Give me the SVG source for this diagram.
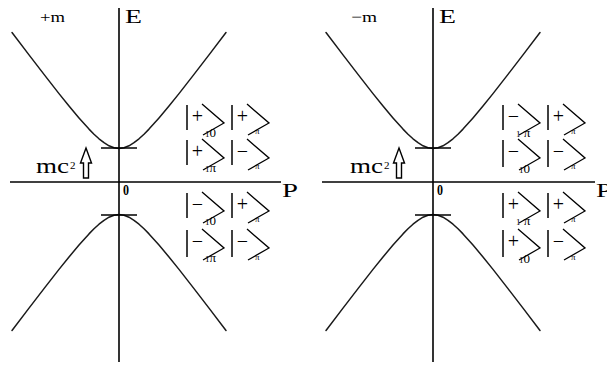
<svg xmlns="http://www.w3.org/2000/svg" width="607" height="366" viewBox="0 0 607 366">
<style>
.ax{stroke:#000;stroke-width:1.6;fill:none}
.cv{stroke:#1a1a1a;stroke-width:1.5;fill:none;stroke-linejoin:round;stroke-linecap:round}
.tk{stroke:#000;stroke-width:1.4}
.bar{stroke:#000;stroke-width:1.5}
.chev{stroke:#000;stroke-width:1.3;fill:none}
.t{font-family:"Liberation Serif","Times New Roman",serif;fill:#000}
.sg{font-family:"Liberation Serif","Times New Roman",serif;font-size:20px;text-anchor:middle;fill:#000}
.sub{font-family:"Liberation Serif","Times New Roman",serif;font-size:13px;fill:#000}
.pi{font-family:"Liberation Serif","Times New Roman",serif;font-size:9px;fill:#000}
.arr{fill:#fff;stroke:#000;stroke-width:1.4}
</style>
<defs>
<path id="hyp" d="M-107,-149 L-90,-126.6 L-75,-107.1 L-60,-87.9 L-50,-75.5 L-40,-63.6 L-35,-57.9 L-30,-52.4 L-25,-47.3 L-20,-42.7 L-15,-38.8 L-10,-35.7 L-5,-33.7 L0,-33 L5,-33.7 L10,-35.7 L15,-38.8 L20,-42.7 L25,-47.3 L30,-52.4 L35,-57.9 L40,-63.6 L50,-75.5 L60,-87.9 L75,-107.1 L90,-126.6 L107,-149"/>
<path id="tick" d="M-18,-33.5 H18"/>
<polygon id="uparr" points="0,0 5.5,15 2.5,15 2.5,30 -2.5,30 -2.5,15 -5.5,15"/>
<path id="chv" d="M15,-1 L37,18 L16,30"/>
</defs>

<g id="panel-left">
  <g id="left-axes">
    <line class="ax" x1="119" y1="8" x2="119" y2="362"/>
    <line class="ax" x1="10" y1="182" x2="281" y2="182"/>
  </g>
  <g id="left-curves" transform="translate(119,181.5)">
    <use href="#hyp" class="cv"/>
    <use href="#tick" class="tk"/>
    <g transform="scale(1,-1)">
      <use href="#hyp" class="cv"/>
      <use href="#tick" class="tk"/>
    </g>
  </g>
  <g id="left-labels">
    <text class="t" x="40" y="22" font-size="15" textLength="25" lengthAdjust="spacingAndGlyphs">+m</text>
    <text class="t" x="125" y="23" font-size="19" textLength="17" lengthAdjust="spacingAndGlyphs">E</text>
    <text class="t" x="282" y="197" font-size="19" textLength="16" lengthAdjust="spacingAndGlyphs">P</text>
    <text class="t" x="123" y="195" font-size="14" font-weight="bold" textLength="6" lengthAdjust="spacingAndGlyphs">0</text>
    <text class="t" x="36" y="173" font-size="20" textLength="33" lengthAdjust="spacingAndGlyphs">mc</text>
    <text class="t" x="70" y="169" font-size="11">2</text>
    <use href="#uparr" class="arr" x="86" y="148"/>
  </g>
  <g id="left-kets">
    <g transform="translate(187,105)">
      <line class="bar" x1="0" y1="0" x2="0" y2="25"/><text class="sg" x="10.5" y="17.5">+</text><use href="#chv" class="chev"/>
      <text class="sub" x="18" y="32"><tspan font-size="9">1</tspan>0</text>
      <line class="bar" x1="45" y1="0" x2="45" y2="25"/><text class="sg" x="55.5" y="17.5">+</text><use href="#chv" class="chev" x="45"/>
      <text class="pi" x="68" y="29">π</text>
    </g>
    <g transform="translate(187,140)">
      <line class="bar" x1="0" y1="0" x2="0" y2="25"/><text class="sg" x="10.5" y="17.5">+</text><use href="#chv" class="chev"/>
      <text class="sub" x="18" y="32"><tspan font-size="9">1</tspan>π</text>
      <line class="bar" x1="45" y1="0" x2="45" y2="25"/><text class="sg" x="55.5" y="17.5">−</text><use href="#chv" class="chev" x="45"/>
      <text class="pi" x="68" y="29">π</text>
    </g>
    <g transform="translate(187,193)">
      <line class="bar" x1="0" y1="0" x2="0" y2="25"/><text class="sg" x="10.5" y="17.5">−</text><use href="#chv" class="chev"/>
      <text class="sub" x="18" y="32"><tspan font-size="9">1</tspan>0</text>
      <line class="bar" x1="45" y1="0" x2="45" y2="25"/><text class="sg" x="55.5" y="17.5">+</text><use href="#chv" class="chev" x="45"/>
      <text class="pi" x="68" y="29">π</text>
    </g>
    <g transform="translate(187,230)">
      <line class="bar" x1="0" y1="0" x2="0" y2="27"/><text class="sg" x="10.5" y="18">−</text><use href="#chv" class="chev"/>
      <text class="sub" x="18" y="32"><tspan font-size="9">1</tspan>π</text>
      <line class="bar" x1="45" y1="0" x2="45" y2="27"/><text class="sg" x="55.5" y="18">−</text><use href="#chv" class="chev" x="45"/>
      <text class="pi" x="68" y="30">π</text>
    </g>
  </g>
</g>

<g id="panel-right">
  <g id="right-axes">
    <line class="ax" x1="433" y1="8" x2="433" y2="362"/>
    <line class="ax" x1="322" y1="182" x2="595" y2="182"/>
  </g>
  <g id="right-curves" transform="translate(433,181.5)">
    <use href="#hyp" class="cv"/>
    <use href="#tick" class="tk"/>
    <g transform="scale(1,-1)">
      <use href="#hyp" class="cv"/>
      <use href="#tick" class="tk"/>
    </g>
  </g>
  <g id="right-labels">
    <text class="t" x="351" y="22" font-size="15" textLength="26" lengthAdjust="spacingAndGlyphs">−m</text>
    <text class="t" x="439" y="23" font-size="19" textLength="17" lengthAdjust="spacingAndGlyphs">E</text>
    <text class="t" x="596" y="197" font-size="19" textLength="16" lengthAdjust="spacingAndGlyphs">P</text>
    <text class="t" x="437" y="195" font-size="14" font-weight="bold" textLength="6" lengthAdjust="spacingAndGlyphs">0</text>
    <text class="t" x="350" y="173" font-size="20" textLength="33" lengthAdjust="spacingAndGlyphs">mc</text>
    <text class="t" x="384" y="169" font-size="11">2</text>
    <use href="#uparr" class="arr" x="399" y="148"/>
  </g>
  <g id="right-kets">
    <g transform="translate(503,105)">
      <line class="bar" x1="0" y1="0" x2="0" y2="25"/><text class="sg" x="10.5" y="17.5">−</text><use href="#chv" class="chev"/>
      <text class="sub" x="13" y="32"><tspan font-size="9">1</tspan> π</text>
      <line class="bar" x1="45" y1="0" x2="45" y2="25"/><text class="sg" x="55.5" y="17.5">+</text><use href="#chv" class="chev" x="45"/>
      <text class="pi" x="68" y="29">π</text>
    </g>
    <g transform="translate(503,140)">
      <line class="bar" x1="0" y1="0" x2="0" y2="27"/><text class="sg" x="10.5" y="17.5">−</text><use href="#chv" class="chev"/>
      <text class="sub" x="16" y="33"><tspan font-size="9">1</tspan>0</text>
      <line class="bar" x1="45" y1="0" x2="45" y2="27"/><text class="sg" x="55.5" y="17.5">−</text><use href="#chv" class="chev" x="45"/>
      <text class="pi" x="68" y="29">π</text>
    </g>
    <g transform="translate(503,193)">
      <line class="bar" x1="0" y1="0" x2="0" y2="25"/><text class="sg" x="10.5" y="17.5">+</text><use href="#chv" class="chev"/>
      <text class="sub" x="13" y="32"><tspan font-size="9">1</tspan> π</text>
      <line class="bar" x1="45" y1="0" x2="45" y2="25"/><text class="sg" x="55.5" y="17.5">+</text><use href="#chv" class="chev" x="45"/>
      <text class="pi" x="68" y="29">π</text>
    </g>
    <g transform="translate(503,230)">
      <line class="bar" x1="0" y1="0" x2="0" y2="27"/><text class="sg" x="10.5" y="18">+</text><use href="#chv" class="chev"/>
      <text class="sub" x="16" y="33"><tspan font-size="9">1</tspan>0</text>
      <line class="bar" x1="45" y1="0" x2="45" y2="27"/><text class="sg" x="55.5" y="18">−</text><use href="#chv" class="chev" x="45"/>
      <text class="pi" x="68" y="30">π</text>
    </g>
  </g>
</g>
</svg>
